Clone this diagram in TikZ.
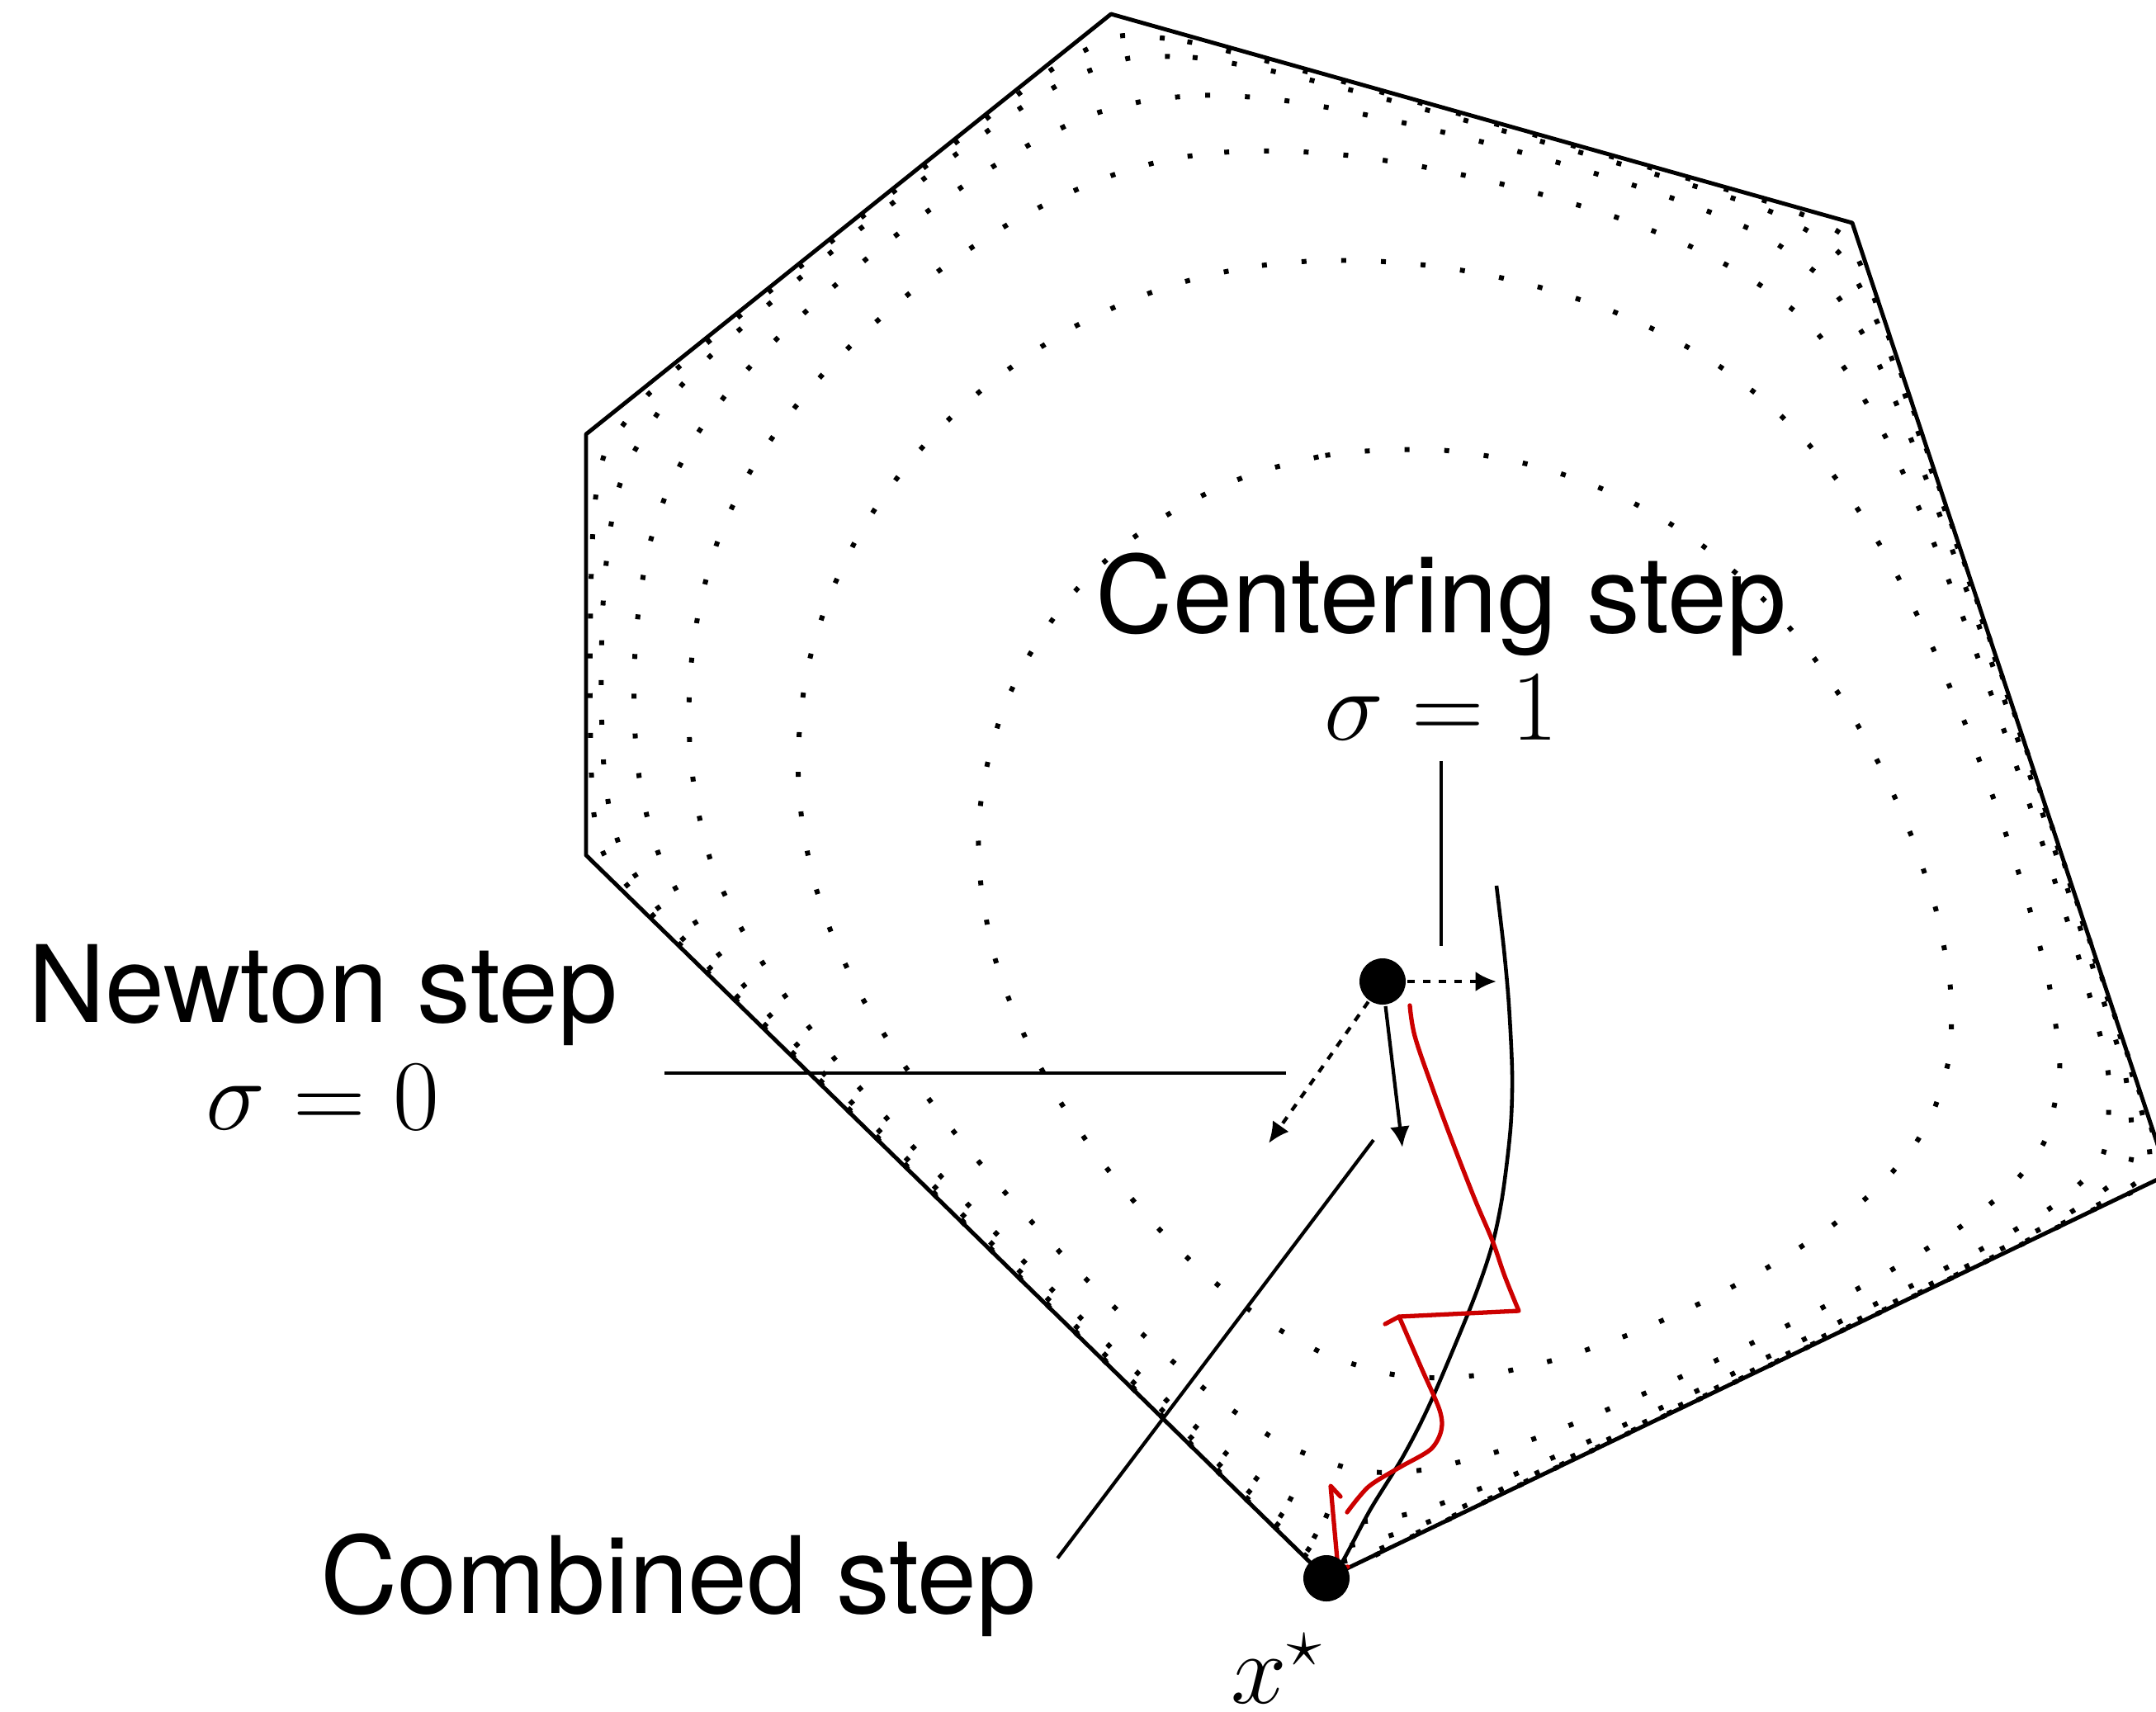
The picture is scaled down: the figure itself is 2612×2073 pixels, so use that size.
\documentclass[tikz,border=0pt]{standalone}
\usepackage{fontspec}
\setmainfont{TeX Gyre Heros}
\usetikzlibrary{arrows.meta}
\definecolor{iterred}{RGB}{204,0,0}
% feasible polygon (units of 100px) and the centre of the level sets
\def\setvert#1#2#3{\expandafter\def\csname vx#1\endcsname{#2}%
  \expandafter\def\csname vy#1\endcsname{#3}}
\setvert0{13.46}{0.17}
\setvert1{22.44}{2.70}
\setvert2{26.26}{14.23}
\setvert3{16.07}{19.12}
\setvert4{7.10}{10.36}
\setvert5{7.10}{5.26}
\setvert6{13.46}{0.17}
\def\vx#1{\csname vx#1\endcsname}
\def\vy#1{\csname vy#1\endcsname}
\def\cx{18.20}
\def\cy{11.95}
% levels of barrier plus linear term, above the centre value
\def\lvls{1.0,2.05,3.2,4.25,5.6,7.0}
\def\sg#1{\csname sg#1\endcsname}

\begin{document}
\begin{tikzpicture}[x=.05mm,y=-.05mm,line width=.6pt,line join=round,
  >={Latex[length=3.6pt,width=3.4pt]},font=\fontsize{18.4}{18.5}\selectfont,
  levelset/.style={line width=.85pt,dash pattern=on .85pt off 6pt},
  hull/.style={line width=.7pt},
  dot/.style={circle,fill,inner sep=0pt,minimum size=2.8mm},
  dstep/.style={dash pattern=on 1.3pt off 1.4pt},
  iter/.style={iterred,line width=.75pt,line cap=round},
  steplabel/.style={align=center}]
  \useasboundingbox (0,0) rectangle (2612,2073);
  \foreach \ed in {0,...,5}
    \coordinate (v\ed) at ({100*\vx\ed},{100*\vy\ed});
  % level sets: bisection along rays from the centre
  \foreach \ej in {0,...,5}{%
    \pgfmathtruncatemacro\kk{\ej+1}%
    \pgfmathsetmacro\dd{(\vy\kk-\vy\ej)*(\vx\ej-\cx)-(\vx\kk-\vx\ej)*(\vy\ej-\cy)}%
    \expandafter\xdef\csname dn\ej\endcsname{\dd}}
  \foreach \n in {1,...,6}{\expandafter\gdef\csname lvl\n\endcsname{}}
  \foreach \ed in {0,...,5}{%
    \pgfmathtruncatemacro\ee{\ed+1}%
    \foreach \m in {0,...,9}{%
      \pgfmathsetmacro\px{\vx\ed+\m/10*(\vx\ee-\vx\ed)}%
      \pgfmathsetmacro\py{\vy\ed+\m/10*(\vy\ee-\vy\ed)}%
      \foreach \ej in {0,...,5}{%
        \pgfmathtruncatemacro\kk{\ej+1}%
        \pgfmathsetmacro\s{max(0,(\vy\kk-\vy\ej)*(\vx\ej-\px)-(\vx\kk-\vx\ej)*(\vy\ej-\py))/\csname dn\ej\endcsname}%
        \ifnum\ej=\ed\def\s{1}\fi
        \expandafter\xdef\csname sg\ej\endcsname{\s}}%
      \pgfmathsetmacro\K{7-\sg0-\sg1-\sg2-\sg3-\sg4-\sg5}%
      \foreach \lv [count=\n] in \lvls{%
        \gdef\lo{0}\pgfmathsetmacro\hi{\lv+9}\global\let\hi\hi
        \foreach \q in {1,...,12}{%
          \pgfmathsetmacro\w{(\lo+\hi)/2}%
          \pgfmathsetmacro\e{exp(-\w)}%
          \pgfmathsetmacro\g{\w-\lv-(1-\e)*\K
            -ln(max(\e+(1-\e)*\sg0,.00001))-ln(max(\e+(1-\e)*\sg1,.00001))
            -ln(max(\e+(1-\e)*\sg2,.00001))-ln(max(\e+(1-\e)*\sg3,.00001))
            -ln(max(\e+(1-\e)*\sg4,.00001))-ln(max(\e+(1-\e)*\sg5,.00001))}%
          \ifdim\g pt>0pt\global\let\hi\w\else\global\let\lo\w\fi}%
        \pgfmathsetmacro\e{1-exp(-(\lo+\hi)/2)}%
        \pgfmathsetmacro\X{100*(\cx+\e*(\px-\cx))}%
        \pgfmathsetmacro\Y{100*(\cy+\e*(\py-\cy))}%
        \expandafter\xdef\csname lvl\n\endcsname{\csname lvl\n\endcsname(\X,\Y)}}}}
  \foreach \n in {1,...,6}{%
    \edef\next{\noexpand\draw[levelset] plot[smooth cycle,tension=.4]
      coordinates {\csname lvl\n\endcsname};}\next}
  \draw[hull] (v0) -- (v1) -- (v2) -- (v3) -- (v4) -- (v5) -- cycle;
  % central path
  \draw[line width=.65pt] plot[smooth] coordinates {(1813,1073) (1822,1150)
    (1828,1217) (1832,1300) (1830,1367) (1820,1450) (1807,1511) (1783,1580)
    (1733,1699) (1700,1764) (1660,1829) (1625,1894) (v3)};
  % iterates
  \draw[iter] plot[smooth,tension=.6] coordinates {(1708,1218) (1714,1255)
    (1734,1314) (1756,1374) (1786,1451) (1808,1503) (1823,1546) (1840,1588)}
    -- (1695,1595) -- (1678,1604);
  \draw[iter] plot[smooth] coordinates {(1695,1595) (1721,1655) (1744,1708)
    (1746,1733) (1733,1756) (1695,1778) (1658,1801) (1632,1832)};
  \draw[iter] (1633,1898) -- (1621,1900) -- (1612,1800) -- (1624,1813);
  \node[dot] (pt) at (1675,1189) {};
  \node[dot] (xs) at (v3) {};
  \coordinate (ctip) at (1813,1189);
  \coordinate (ntip) at (1537,1385);
  \coordinate (btip) at (1699,1390);
  \draw[dstep,->] (pt) -- (ctip);
  \draw[dstep,->] (pt) -- (ntip);
  \draw[->] (pt) -- (btip);
  % labels
  \node[steplabel,anchor=north] (cen) at (1746,644) {Centering step\\$\sigma=1$};
  \node[steplabel,anchor=north] (newt) at (391,1119) {Newton step\\$\sigma=0$};
  \node[anchor=base] (comb) at (822,1954) {Combined step};
  \node[anchor=base] (xlab) at (1548,2063) {$x^\star$};
  \coordinate (cend) at (1746,1146);
  \coordinate (nend) at (1558,1300);
  \coordinate (bend) at (1664,1381);
  \draw (cen) -- (cend);
  \draw ([xshift=1.6mm]newt.east |- nend) -- (nend);
  \draw (comb.4) -- (bend);
\end{tikzpicture}
\end{document}
